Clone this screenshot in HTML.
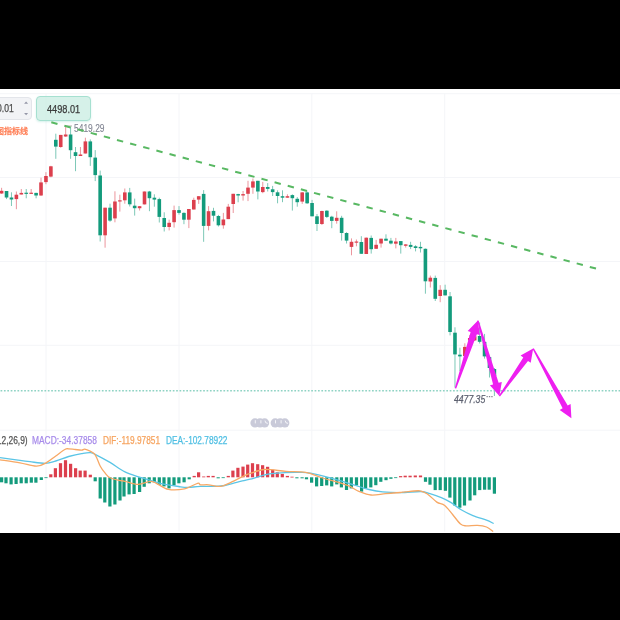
<!DOCTYPE html>
<html><head><meta charset="utf-8"><style>
html,body{margin:0;padding:0;background:#000;width:620px;height:620px;overflow:hidden}
#c{position:absolute;left:0;top:89px;width:620px;height:444px;background:#fff;overflow:hidden;filter:blur(0.35px)}
svg{position:absolute;left:0;top:0}
.t{position:absolute;font-family:"Liberation Sans",Arial,sans-serif;white-space:nowrap;transform-origin:0 0;-webkit-text-stroke:0.25px currentColor}
.inp{position:absolute;left:-20px;top:7.8px;width:52px;height:23px;background:#f2f3f6;border:1px solid #e3e5ea;border-radius:4px;box-sizing:border-box}
.gb{position:absolute;left:36px;top:6.7px;width:54.6px;height:25.4px;background:rgba(200,236,226,0.75);border:1px solid #a6e0d0;border-radius:4px;box-sizing:border-box;box-shadow:0 1px 2px rgba(120,210,190,0.3)}
</style></head><body>
<div id="c">
<svg width="620" height="444" viewBox="0 89 620 444">
<line x1="0" y1="93.7" x2="620" y2="93.7" stroke="#f4f5f8" stroke-width="1"/>
<line x1="0" y1="177.5" x2="620" y2="177.5" stroke="#f4f5f8" stroke-width="1"/>
<line x1="0" y1="261.5" x2="620" y2="261.5" stroke="#f4f5f8" stroke-width="1"/>
<line x1="0" y1="345.3" x2="620" y2="345.3" stroke="#f4f5f8" stroke-width="1"/>
<line x1="0" y1="430.2" x2="620" y2="430.2" stroke="#f4f5f8" stroke-width="1"/>
<line x1="46" y1="93.7" x2="46" y2="531.5" stroke="#f4f5f8" stroke-width="1"/>
<line x1="179" y1="93.7" x2="179" y2="531.5" stroke="#f4f5f8" stroke-width="1"/>
<line x1="311.8" y1="93.7" x2="311.8" y2="531.5" stroke="#f4f5f8" stroke-width="1"/>
<line x1="444.7" y1="93.7" x2="444.7" y2="531.5" stroke="#f4f5f8" stroke-width="1"/>
<line x1="1.60" y1="187.8" x2="1.60" y2="193.9" stroke="#dc3f4d" stroke-width="1" opacity="0.55"/>
<rect x="-0.20" y="190.8" width="3.6" height="2.7" fill="#dc3f4d"/>
<line x1="6.53" y1="191.0" x2="6.53" y2="199.1" stroke="#139b7c" stroke-width="1" opacity="0.55"/>
<rect x="4.73" y="191.0" width="3.6" height="6.5" fill="#139b7c"/>
<line x1="11.46" y1="192.3" x2="11.46" y2="206.0" stroke="#139b7c" stroke-width="1" opacity="0.55"/>
<rect x="9.66" y="197.5" width="3.6" height="2.0" fill="#139b7c"/>
<line x1="16.38" y1="191.5" x2="16.38" y2="209.2" stroke="#dc3f4d" stroke-width="1" opacity="0.55"/>
<rect x="14.58" y="194.7" width="3.6" height="4.4" fill="#dc3f4d"/>
<line x1="21.31" y1="189.0" x2="21.31" y2="194.5" stroke="#dc3f4d" stroke-width="1" opacity="0.55"/>
<rect x="19.51" y="192.9" width="3.6" height="1.6" fill="#dc3f4d"/>
<line x1="26.24" y1="189.0" x2="26.24" y2="198.3" stroke="#139b7c" stroke-width="1" opacity="0.55"/>
<rect x="24.44" y="192.7" width="3.6" height="1.2" fill="#139b7c"/>
<line x1="31.17" y1="189.0" x2="31.17" y2="193.7" stroke="#dc3f4d" stroke-width="1" opacity="0.55"/>
<rect x="29.37" y="192.7" width="3.6" height="1.2" fill="#dc3f4d"/>
<line x1="36.10" y1="192.7" x2="36.10" y2="198.3" stroke="#139b7c" stroke-width="1" opacity="0.55"/>
<rect x="34.30" y="192.9" width="3.6" height="2.6" fill="#139b7c"/>
<line x1="41.02" y1="177.7" x2="41.02" y2="195.9" stroke="#dc3f4d" stroke-width="1" opacity="0.55"/>
<rect x="39.22" y="182.4" width="3.6" height="13.1" fill="#dc3f4d"/>
<line x1="45.95" y1="172.2" x2="45.95" y2="184.2" stroke="#dc3f4d" stroke-width="1" opacity="0.55"/>
<rect x="44.15" y="176.0" width="3.6" height="6.1" fill="#dc3f4d"/>
<line x1="50.88" y1="165.8" x2="50.88" y2="177.3" stroke="#dc3f4d" stroke-width="1" opacity="0.55"/>
<rect x="49.08" y="166.3" width="3.6" height="10.3" fill="#dc3f4d"/>
<line x1="55.81" y1="133.7" x2="55.81" y2="158.8" stroke="#139b7c" stroke-width="1" opacity="0.55"/>
<rect x="54.01" y="139.8" width="3.6" height="6.8" fill="#139b7c"/>
<line x1="60.74" y1="134.9" x2="60.74" y2="147.8" stroke="#dc3f4d" stroke-width="1" opacity="0.55"/>
<rect x="58.94" y="134.9" width="3.6" height="12.1" fill="#dc3f4d"/>
<line x1="65.66" y1="126.9" x2="65.66" y2="136.9" stroke="#dc3f4d" stroke-width="1" opacity="0.55"/>
<rect x="63.86" y="134.5" width="3.6" height="2.0" fill="#dc3f4d"/>
<line x1="70.59" y1="126.9" x2="70.59" y2="158.8" stroke="#139b7c" stroke-width="1" opacity="0.55"/>
<rect x="68.79" y="134.5" width="3.6" height="15.7" fill="#139b7c"/>
<line x1="75.52" y1="147.0" x2="75.52" y2="171.2" stroke="#139b7c" stroke-width="1" opacity="0.55"/>
<rect x="73.72" y="152.2" width="3.6" height="3.8" fill="#139b7c"/>
<line x1="80.45" y1="147.0" x2="80.45" y2="156.0" stroke="#dc3f4d" stroke-width="1" opacity="0.55"/>
<rect x="78.65" y="154.5" width="3.6" height="1.5" fill="#dc3f4d"/>
<line x1="85.38" y1="137.7" x2="85.38" y2="153.5" stroke="#dc3f4d" stroke-width="1" opacity="0.55"/>
<rect x="83.58" y="141.4" width="3.6" height="12.1" fill="#dc3f4d"/>
<line x1="90.30" y1="139.4" x2="90.30" y2="165.9" stroke="#139b7c" stroke-width="1" opacity="0.55"/>
<rect x="88.50" y="141.4" width="3.6" height="15.8" fill="#139b7c"/>
<line x1="95.23" y1="150.1" x2="95.23" y2="181.1" stroke="#139b7c" stroke-width="1" opacity="0.55"/>
<rect x="93.43" y="157.6" width="3.6" height="17.5" fill="#139b7c"/>
<line x1="100.16" y1="170.6" x2="100.16" y2="241.5" stroke="#139b7c" stroke-width="1" opacity="0.55"/>
<rect x="98.36" y="175.5" width="3.6" height="59.8" fill="#139b7c"/>
<line x1="105.09" y1="207.7" x2="105.09" y2="247.7" stroke="#dc3f4d" stroke-width="1" opacity="0.55"/>
<rect x="103.29" y="207.7" width="3.6" height="27.6" fill="#dc3f4d"/>
<line x1="110.02" y1="203.7" x2="110.02" y2="221.8" stroke="#139b7c" stroke-width="1" opacity="0.55"/>
<rect x="108.22" y="207.7" width="3.6" height="12.9" fill="#139b7c"/>
<line x1="114.94" y1="191.3" x2="114.94" y2="222.3" stroke="#dc3f4d" stroke-width="1" opacity="0.55"/>
<rect x="113.14" y="201.5" width="3.6" height="16.9" fill="#dc3f4d"/>
<line x1="119.87" y1="194.7" x2="119.87" y2="211.6" stroke="#dc3f4d" stroke-width="1" opacity="0.55"/>
<rect x="118.07" y="200.3" width="3.6" height="1.2" fill="#dc3f4d"/>
<line x1="124.80" y1="188.5" x2="124.80" y2="203.7" stroke="#dc3f4d" stroke-width="1" opacity="0.55"/>
<rect x="123.00" y="192.4" width="3.6" height="7.9" fill="#dc3f4d"/>
<line x1="129.73" y1="187.9" x2="129.73" y2="206.5" stroke="#139b7c" stroke-width="1" opacity="0.55"/>
<rect x="127.93" y="192.4" width="3.6" height="11.9" fill="#139b7c"/>
<line x1="134.66" y1="198.6" x2="134.66" y2="215.6" stroke="#139b7c" stroke-width="1" opacity="0.55"/>
<rect x="132.86" y="205.7" width="3.6" height="2.5" fill="#139b7c"/>
<line x1="139.58" y1="206.0" x2="139.58" y2="210.5" stroke="#dc3f4d" stroke-width="1" opacity="0.55"/>
<rect x="137.78" y="206.2" width="3.6" height="2.0" fill="#dc3f4d"/>
<line x1="144.51" y1="191.5" x2="144.51" y2="204.4" stroke="#dc3f4d" stroke-width="1" opacity="0.55"/>
<rect x="142.71" y="191.5" width="3.6" height="12.9" fill="#dc3f4d"/>
<line x1="149.44" y1="190.9" x2="149.44" y2="211.2" stroke="#139b7c" stroke-width="1" opacity="0.55"/>
<rect x="147.64" y="191.5" width="3.6" height="6.7" fill="#139b7c"/>
<line x1="154.37" y1="194.3" x2="154.37" y2="206.7" stroke="#139b7c" stroke-width="1" opacity="0.55"/>
<rect x="152.57" y="197.7" width="3.6" height="1.9" fill="#139b7c"/>
<line x1="159.30" y1="197.7" x2="159.30" y2="222.5" stroke="#139b7c" stroke-width="1" opacity="0.55"/>
<rect x="157.50" y="199.1" width="3.6" height="17.8" fill="#139b7c"/>
<line x1="164.22" y1="212.3" x2="164.22" y2="231.5" stroke="#139b7c" stroke-width="1" opacity="0.55"/>
<rect x="162.42" y="218.0" width="3.6" height="9.0" fill="#139b7c"/>
<line x1="169.15" y1="219.7" x2="169.15" y2="230.4" stroke="#dc3f4d" stroke-width="1" opacity="0.55"/>
<rect x="167.35" y="222.8" width="3.6" height="4.2" fill="#dc3f4d"/>
<line x1="174.08" y1="205.6" x2="174.08" y2="227.6" stroke="#dc3f4d" stroke-width="1" opacity="0.55"/>
<rect x="172.28" y="210.1" width="3.6" height="12.1" fill="#dc3f4d"/>
<line x1="179.01" y1="206.1" x2="179.01" y2="214.6" stroke="#139b7c" stroke-width="1" opacity="0.55"/>
<rect x="177.21" y="210.1" width="3.6" height="2.8" fill="#139b7c"/>
<line x1="183.94" y1="212.3" x2="183.94" y2="224.2" stroke="#139b7c" stroke-width="1" opacity="0.55"/>
<rect x="182.14" y="212.9" width="3.6" height="6.8" fill="#139b7c"/>
<line x1="188.86" y1="209.0" x2="188.86" y2="228.1" stroke="#dc3f4d" stroke-width="1" opacity="0.55"/>
<rect x="187.06" y="209.0" width="3.6" height="10.7" fill="#dc3f4d"/>
<line x1="193.79" y1="197.7" x2="193.79" y2="209.5" stroke="#dc3f4d" stroke-width="1" opacity="0.55"/>
<rect x="191.99" y="199.9" width="3.6" height="9.6" fill="#dc3f4d"/>
<line x1="198.72" y1="196.0" x2="198.72" y2="203.9" stroke="#dc3f4d" stroke-width="1" opacity="0.55"/>
<rect x="196.92" y="196.2" width="3.6" height="3.4" fill="#dc3f4d"/>
<line x1="203.65" y1="190.1" x2="203.65" y2="241.8" stroke="#139b7c" stroke-width="1" opacity="0.55"/>
<rect x="201.85" y="193.9" width="3.6" height="32.0" fill="#139b7c"/>
<line x1="208.58" y1="206.1" x2="208.58" y2="230.4" stroke="#dc3f4d" stroke-width="1" opacity="0.55"/>
<rect x="206.78" y="211.2" width="3.6" height="14.7" fill="#dc3f4d"/>
<line x1="213.50" y1="207.8" x2="213.50" y2="221.4" stroke="#139b7c" stroke-width="1" opacity="0.55"/>
<rect x="211.70" y="210.9" width="3.6" height="4.8" fill="#139b7c"/>
<line x1="218.43" y1="214.9" x2="218.43" y2="226.5" stroke="#139b7c" stroke-width="1" opacity="0.55"/>
<rect x="216.63" y="216.0" width="3.6" height="9.3" fill="#139b7c"/>
<line x1="223.36" y1="212.9" x2="223.36" y2="228.7" stroke="#dc3f4d" stroke-width="1" opacity="0.55"/>
<rect x="221.56" y="219.5" width="3.6" height="5.8" fill="#dc3f4d"/>
<line x1="228.29" y1="203.9" x2="228.29" y2="219.1" stroke="#dc3f4d" stroke-width="1" opacity="0.55"/>
<rect x="226.49" y="206.7" width="3.6" height="12.4" fill="#dc3f4d"/>
<line x1="233.22" y1="193.8" x2="233.22" y2="213.0" stroke="#dc3f4d" stroke-width="1" opacity="0.55"/>
<rect x="231.42" y="193.8" width="3.6" height="10.2" fill="#dc3f4d"/>
<line x1="238.14" y1="193.8" x2="238.14" y2="202.3" stroke="#139b7c" stroke-width="1" opacity="0.55"/>
<rect x="236.34" y="194.1" width="3.6" height="1.4" fill="#139b7c"/>
<line x1="243.07" y1="191.0" x2="243.07" y2="200.6" stroke="#dc3f4d" stroke-width="1" opacity="0.55"/>
<rect x="241.27" y="194.1" width="3.6" height="1.4" fill="#dc3f4d"/>
<line x1="248.00" y1="180.8" x2="248.00" y2="201.1" stroke="#dc3f4d" stroke-width="1" opacity="0.55"/>
<rect x="246.20" y="187.6" width="3.6" height="6.2" fill="#dc3f4d"/>
<line x1="252.93" y1="178.5" x2="252.93" y2="193.8" stroke="#dc3f4d" stroke-width="1" opacity="0.55"/>
<rect x="251.13" y="181.4" width="3.6" height="6.2" fill="#dc3f4d"/>
<line x1="257.86" y1="180.8" x2="257.86" y2="199.4" stroke="#139b7c" stroke-width="1" opacity="0.55"/>
<rect x="256.06" y="180.8" width="3.6" height="10.7" fill="#139b7c"/>
<line x1="262.78" y1="181.9" x2="262.78" y2="193.2" stroke="#dc3f4d" stroke-width="1" opacity="0.55"/>
<rect x="260.98" y="187.0" width="3.6" height="5.1" fill="#dc3f4d"/>
<line x1="267.71" y1="183.1" x2="267.71" y2="191.5" stroke="#139b7c" stroke-width="1" opacity="0.55"/>
<rect x="265.91" y="187.0" width="3.6" height="1.9" fill="#139b7c"/>
<line x1="272.64" y1="185.9" x2="272.64" y2="196.0" stroke="#139b7c" stroke-width="1" opacity="0.55"/>
<rect x="270.84" y="189.3" width="3.6" height="2.8" fill="#139b7c"/>
<line x1="277.57" y1="190.3" x2="277.57" y2="203.3" stroke="#139b7c" stroke-width="1" opacity="0.55"/>
<rect x="275.77" y="192.3" width="3.6" height="3.7" fill="#139b7c"/>
<line x1="282.50" y1="190.3" x2="282.50" y2="202.2" stroke="#139b7c" stroke-width="1" opacity="0.55"/>
<rect x="280.70" y="196.2" width="3.6" height="1.5" fill="#139b7c"/>
<line x1="287.42" y1="194.3" x2="287.42" y2="197.7" stroke="#dc3f4d" stroke-width="1" opacity="0.55"/>
<rect x="285.62" y="196.2" width="3.6" height="1.5" fill="#dc3f4d"/>
<line x1="292.35" y1="194.3" x2="292.35" y2="210.6" stroke="#139b7c" stroke-width="1" opacity="0.55"/>
<rect x="290.55" y="195.1" width="3.6" height="3.1" fill="#139b7c"/>
<line x1="297.28" y1="197.1" x2="297.28" y2="206.7" stroke="#139b7c" stroke-width="1" opacity="0.55"/>
<rect x="295.48" y="198.8" width="3.6" height="3.4" fill="#139b7c"/>
<line x1="302.21" y1="192.0" x2="302.21" y2="203.9" stroke="#dc3f4d" stroke-width="1" opacity="0.55"/>
<rect x="300.41" y="192.4" width="3.6" height="9.2" fill="#dc3f4d"/>
<line x1="307.14" y1="191.5" x2="307.14" y2="203.9" stroke="#139b7c" stroke-width="1" opacity="0.55"/>
<rect x="305.34" y="192.4" width="3.6" height="10.9" fill="#139b7c"/>
<line x1="312.06" y1="199.9" x2="312.06" y2="216.3" stroke="#139b7c" stroke-width="1" opacity="0.55"/>
<rect x="310.26" y="203.0" width="3.6" height="13.3" fill="#139b7c"/>
<line x1="316.99" y1="214.0" x2="316.99" y2="231.0" stroke="#139b7c" stroke-width="1" opacity="0.55"/>
<rect x="315.19" y="216.3" width="3.6" height="7.7" fill="#139b7c"/>
<line x1="321.92" y1="210.7" x2="321.92" y2="225.0" stroke="#dc3f4d" stroke-width="1" opacity="0.55"/>
<rect x="320.12" y="211.0" width="3.6" height="13.0" fill="#dc3f4d"/>
<line x1="326.85" y1="210.2" x2="326.85" y2="218.0" stroke="#139b7c" stroke-width="1" opacity="0.55"/>
<rect x="325.05" y="210.7" width="3.6" height="6.2" fill="#139b7c"/>
<line x1="331.78" y1="215.8" x2="331.78" y2="228.2" stroke="#139b7c" stroke-width="1" opacity="0.55"/>
<rect x="329.98" y="216.7" width="3.6" height="4.2" fill="#139b7c"/>
<line x1="336.70" y1="211.3" x2="336.70" y2="223.7" stroke="#dc3f4d" stroke-width="1" opacity="0.55"/>
<rect x="334.90" y="217.8" width="3.6" height="3.1" fill="#dc3f4d"/>
<line x1="341.63" y1="215.8" x2="341.63" y2="240.6" stroke="#139b7c" stroke-width="1" opacity="0.55"/>
<rect x="339.83" y="217.8" width="3.6" height="15.2" fill="#139b7c"/>
<line x1="346.56" y1="232.2" x2="346.56" y2="243.5" stroke="#139b7c" stroke-width="1" opacity="0.55"/>
<rect x="344.76" y="233.0" width="3.6" height="7.6" fill="#139b7c"/>
<line x1="351.49" y1="238.4" x2="351.49" y2="255.3" stroke="#dc3f4d" stroke-width="1" opacity="0.55"/>
<rect x="349.69" y="241.8" width="3.6" height="5.1" fill="#dc3f4d"/>
<line x1="356.42" y1="239.5" x2="356.42" y2="246.3" stroke="#dc3f4d" stroke-width="1" opacity="0.55"/>
<rect x="354.62" y="241.5" width="3.6" height="1.2" fill="#dc3f4d"/>
<line x1="361.34" y1="236.2" x2="361.34" y2="253.8" stroke="#139b7c" stroke-width="1" opacity="0.55"/>
<rect x="359.54" y="242.0" width="3.6" height="11.8" fill="#139b7c"/>
<line x1="366.27" y1="237.5" x2="366.27" y2="254.0" stroke="#dc3f4d" stroke-width="1" opacity="0.55"/>
<rect x="364.47" y="237.7" width="3.6" height="16.3" fill="#dc3f4d"/>
<line x1="371.20" y1="235.5" x2="371.20" y2="253.6" stroke="#139b7c" stroke-width="1" opacity="0.55"/>
<rect x="369.40" y="237.9" width="3.6" height="11.3" fill="#139b7c"/>
<line x1="376.13" y1="239.9" x2="376.13" y2="248.8" stroke="#dc3f4d" stroke-width="1" opacity="0.55"/>
<rect x="374.33" y="244.8" width="3.6" height="4.0" fill="#dc3f4d"/>
<line x1="381.06" y1="238.7" x2="381.06" y2="247.6" stroke="#dc3f4d" stroke-width="1" opacity="0.55"/>
<rect x="379.26" y="238.7" width="3.6" height="4.8" fill="#dc3f4d"/>
<line x1="385.98" y1="234.3" x2="385.98" y2="240.7" stroke="#139b7c" stroke-width="1" opacity="0.55"/>
<rect x="384.18" y="238.7" width="3.6" height="2.0" fill="#139b7c"/>
<line x1="390.91" y1="237.9" x2="390.91" y2="244.4" stroke="#139b7c" stroke-width="1" opacity="0.55"/>
<rect x="389.11" y="240.7" width="3.6" height="2.8" fill="#139b7c"/>
<line x1="395.84" y1="237.9" x2="395.84" y2="248.4" stroke="#dc3f4d" stroke-width="1" opacity="0.55"/>
<rect x="394.04" y="241.5" width="3.6" height="2.2" fill="#dc3f4d"/>
<line x1="400.77" y1="241.1" x2="400.77" y2="253.6" stroke="#139b7c" stroke-width="1" opacity="0.55"/>
<rect x="398.97" y="241.1" width="3.6" height="4.1" fill="#139b7c"/>
<line x1="405.70" y1="244.0" x2="405.70" y2="247.6" stroke="#dc3f4d" stroke-width="1" opacity="0.55"/>
<rect x="403.90" y="244.4" width="3.6" height="1.4" fill="#dc3f4d"/>
<line x1="410.62" y1="241.8" x2="410.62" y2="249.1" stroke="#139b7c" stroke-width="1" opacity="0.55"/>
<rect x="408.82" y="244.9" width="3.6" height="2.0" fill="#139b7c"/>
<line x1="415.55" y1="245.2" x2="415.55" y2="251.4" stroke="#139b7c" stroke-width="1" opacity="0.55"/>
<rect x="413.75" y="246.3" width="3.6" height="1.7" fill="#139b7c"/>
<line x1="420.48" y1="241.8" x2="420.48" y2="252.5" stroke="#139b7c" stroke-width="1" opacity="0.55"/>
<rect x="418.68" y="246.9" width="3.6" height="1.4" fill="#139b7c"/>
<line x1="425.41" y1="248.5" x2="425.41" y2="293.7" stroke="#139b7c" stroke-width="1" opacity="0.55"/>
<rect x="423.61" y="248.8" width="3.6" height="32.5" fill="#139b7c"/>
<line x1="430.34" y1="275.6" x2="430.34" y2="287.5" stroke="#dc3f4d" stroke-width="1" opacity="0.55"/>
<rect x="428.54" y="277.7" width="3.6" height="3.8" fill="#dc3f4d"/>
<line x1="435.26" y1="275.6" x2="435.26" y2="301.0" stroke="#139b7c" stroke-width="1" opacity="0.55"/>
<rect x="433.46" y="277.9" width="3.6" height="20.9" fill="#139b7c"/>
<line x1="440.19" y1="285.2" x2="440.19" y2="302.2" stroke="#dc3f4d" stroke-width="1" opacity="0.55"/>
<rect x="438.39" y="289.8" width="3.6" height="6.2" fill="#dc3f4d"/>
<line x1="445.12" y1="284.7" x2="445.12" y2="295.4" stroke="#139b7c" stroke-width="1" opacity="0.55"/>
<rect x="443.32" y="289.8" width="3.6" height="5.6" fill="#139b7c"/>
<line x1="450.05" y1="292.0" x2="450.05" y2="335.4" stroke="#139b7c" stroke-width="1" opacity="0.55"/>
<rect x="448.25" y="296.3" width="3.6" height="35.7" fill="#139b7c"/>
<line x1="454.98" y1="327.3" x2="454.98" y2="387.6" stroke="#139b7c" stroke-width="1" opacity="0.55"/>
<rect x="453.18" y="332.7" width="3.6" height="21.7" fill="#139b7c"/>
<line x1="459.90" y1="347.7" x2="459.90" y2="371.0" stroke="#139b7c" stroke-width="1" opacity="0.55"/>
<rect x="458.10" y="354.7" width="3.6" height="1.7" fill="#139b7c"/>
<line x1="464.83" y1="343.3" x2="464.83" y2="357.0" stroke="#dc3f4d" stroke-width="1" opacity="0.55"/>
<rect x="463.03" y="346.9" width="3.6" height="9.1" fill="#dc3f4d"/>
<line x1="469.76" y1="335.0" x2="469.76" y2="342.0" stroke="#dc3f4d" stroke-width="1" opacity="0.55"/>
<rect x="467.96" y="338.0" width="3.6" height="2.5" fill="#dc3f4d"/>
<line x1="474.69" y1="333.0" x2="474.69" y2="341.0" stroke="#dc3f4d" stroke-width="1" opacity="0.55"/>
<rect x="472.89" y="336.3" width="3.6" height="4.1" fill="#dc3f4d"/>
<line x1="479.62" y1="322.5" x2="479.62" y2="343.5" stroke="#139b7c" stroke-width="1" opacity="0.55"/>
<rect x="477.82" y="336.0" width="3.6" height="5.8" fill="#139b7c"/>
<line x1="484.54" y1="333.9" x2="484.54" y2="358.6" stroke="#139b7c" stroke-width="1" opacity="0.55"/>
<rect x="482.74" y="341.9" width="3.6" height="14.5" fill="#139b7c"/>
<line x1="489.47" y1="356.4" x2="489.47" y2="377.5" stroke="#139b7c" stroke-width="1" opacity="0.55"/>
<rect x="487.67" y="357.1" width="3.6" height="10.9" fill="#139b7c"/>
<line x1="494.40" y1="368.0" x2="494.40" y2="396.0" stroke="#139b7c" stroke-width="1" opacity="0.55"/>
<rect x="492.60" y="369.0" width="3.6" height="7.0" fill="#139b7c"/>
<rect x="0.00" y="477.3" width="3.2" height="5.0" fill="#139b7c"/>
<rect x="4.40" y="477.3" width="3.2" height="6.0" fill="#139b7c"/>
<rect x="9.50" y="477.3" width="3.2" height="7.1" fill="#139b7c"/>
<rect x="14.50" y="477.3" width="3.2" height="6.7" fill="#139b7c"/>
<rect x="19.60" y="477.3" width="3.2" height="6.0" fill="#139b7c"/>
<rect x="24.60" y="477.3" width="3.2" height="6.0" fill="#139b7c"/>
<rect x="29.70" y="477.3" width="3.2" height="5.4" fill="#139b7c"/>
<rect x="34.30" y="477.3" width="3.2" height="5.4" fill="#139b7c"/>
<rect x="39.70" y="477.3" width="3.2" height="2.7" fill="#139b7c"/>
<rect x="44.40" y="477.3" width="3.2" height="0.8" fill="#139b7c"/>
<rect x="49.20" y="474.3" width="3.2" height="3.0" fill="#dc3f4d"/>
<rect x="53.80" y="468.2" width="3.2" height="9.1" fill="#dc3f4d"/>
<rect x="58.90" y="463.2" width="3.2" height="14.1" fill="#dc3f4d"/>
<rect x="63.90" y="460.2" width="3.2" height="17.1" fill="#dc3f4d"/>
<rect x="69.00" y="463.8" width="3.2" height="13.5" fill="#dc3f4d"/>
<rect x="74.00" y="468.2" width="3.2" height="9.1" fill="#dc3f4d"/>
<rect x="78.60" y="470.6" width="3.2" height="6.7" fill="#dc3f4d"/>
<rect x="83.50" y="470.6" width="3.2" height="6.7" fill="#dc3f4d"/>
<rect x="88.70" y="474.7" width="3.2" height="2.6" fill="#dc3f4d"/>
<rect x="93.60" y="477.3" width="3.2" height="4.0" fill="#139b7c"/>
<rect x="98.60" y="477.3" width="3.2" height="21.2" fill="#139b7c"/>
<rect x="103.20" y="477.3" width="3.2" height="25.2" fill="#139b7c"/>
<rect x="108.30" y="477.3" width="3.2" height="29.2" fill="#139b7c"/>
<rect x="113.30" y="477.3" width="3.2" height="27.2" fill="#139b7c"/>
<rect x="118.40" y="477.3" width="3.2" height="23.2" fill="#139b7c"/>
<rect x="122.40" y="477.3" width="3.2" height="19.2" fill="#139b7c"/>
<rect x="127.50" y="477.3" width="3.2" height="17.1" fill="#139b7c"/>
<rect x="132.50" y="477.3" width="3.2" height="16.7" fill="#139b7c"/>
<rect x="138.00" y="477.3" width="3.2" height="14.7" fill="#139b7c"/>
<rect x="142.60" y="477.3" width="3.2" height="9.5" fill="#139b7c"/>
<rect x="147.60" y="477.3" width="3.2" height="6.0" fill="#139b7c"/>
<rect x="152.70" y="477.3" width="3.2" height="5.0" fill="#139b7c"/>
<rect x="157.70" y="477.3" width="3.2" height="7.5" fill="#139b7c"/>
<rect x="162.40" y="477.3" width="3.2" height="9.1" fill="#139b7c"/>
<rect x="167.40" y="477.3" width="3.2" height="11.1" fill="#139b7c"/>
<rect x="172.40" y="477.3" width="3.2" height="8.1" fill="#139b7c"/>
<rect x="177.30" y="477.3" width="3.2" height="6.0" fill="#139b7c"/>
<rect x="182.50" y="477.3" width="3.2" height="5.0" fill="#139b7c"/>
<rect x="187.60" y="477.3" width="3.2" height="2.0" fill="#139b7c"/>
<rect x="192.60" y="475.9" width="3.2" height="1.4" fill="#dc3f4d"/>
<rect x="197.00" y="472.3" width="3.2" height="5.0" fill="#dc3f4d"/>
<rect x="202.10" y="476.5" width="3.2" height="0.8" fill="#dc3f4d"/>
<rect x="206.70" y="475.9" width="3.2" height="1.4" fill="#dc3f4d"/>
<rect x="211.50" y="475.9" width="3.2" height="1.4" fill="#dc3f4d"/>
<rect x="216.60" y="477.3" width="3.2" height="1.0" fill="#139b7c"/>
<rect x="221.60" y="477.3" width="3.2" height="0.8" fill="#139b7c"/>
<rect x="226.70" y="475.9" width="3.2" height="1.4" fill="#dc3f4d"/>
<rect x="231.30" y="470.6" width="3.2" height="6.7" fill="#dc3f4d"/>
<rect x="236.30" y="467.8" width="3.2" height="9.5" fill="#dc3f4d"/>
<rect x="241.40" y="466.6" width="3.2" height="10.7" fill="#dc3f4d"/>
<rect x="246.10" y="464.6" width="3.2" height="12.7" fill="#dc3f4d"/>
<rect x="250.90" y="463.2" width="3.2" height="14.1" fill="#dc3f4d"/>
<rect x="256.10" y="464.2" width="3.2" height="13.1" fill="#dc3f4d"/>
<rect x="261.00" y="465.2" width="3.2" height="12.1" fill="#dc3f4d"/>
<rect x="266.00" y="466.8" width="3.2" height="10.5" fill="#dc3f4d"/>
<rect x="271.10" y="469.8" width="3.2" height="7.5" fill="#dc3f4d"/>
<rect x="275.70" y="472.3" width="3.2" height="5.0" fill="#dc3f4d"/>
<rect x="280.70" y="473.9" width="3.2" height="3.4" fill="#dc3f4d"/>
<rect x="285.80" y="475.9" width="3.2" height="1.4" fill="#dc3f4d"/>
<rect x="290.40" y="476.7" width="3.2" height="0.8" fill="#dc3f4d"/>
<rect x="295.30" y="477.3" width="3.2" height="1.0" fill="#139b7c"/>
<rect x="300.50" y="477.3" width="3.2" height="1.0" fill="#139b7c"/>
<rect x="304.90" y="477.3" width="3.2" height="2.0" fill="#139b7c"/>
<rect x="310.00" y="477.3" width="3.2" height="5.4" fill="#139b7c"/>
<rect x="315.00" y="477.3" width="3.2" height="9.1" fill="#139b7c"/>
<rect x="320.10" y="477.3" width="3.2" height="8.7" fill="#139b7c"/>
<rect x="325.10" y="477.3" width="3.2" height="8.1" fill="#139b7c"/>
<rect x="330.10" y="477.3" width="3.2" height="9.1" fill="#139b7c"/>
<rect x="335.20" y="477.3" width="3.2" height="7.1" fill="#139b7c"/>
<rect x="339.80" y="477.3" width="3.2" height="10.1" fill="#139b7c"/>
<rect x="344.90" y="477.3" width="3.2" height="12.7" fill="#139b7c"/>
<rect x="349.70" y="477.3" width="3.2" height="11.1" fill="#139b7c"/>
<rect x="354.90" y="477.3" width="3.2" height="8.1" fill="#139b7c"/>
<rect x="360.00" y="477.3" width="3.2" height="14.3" fill="#139b7c"/>
<rect x="364.00" y="477.3" width="3.2" height="11.2" fill="#139b7c"/>
<rect x="369.20" y="477.3" width="3.2" height="10.1" fill="#139b7c"/>
<rect x="374.20" y="477.3" width="3.2" height="7.9" fill="#139b7c"/>
<rect x="379.20" y="477.3" width="3.2" height="4.5" fill="#139b7c"/>
<rect x="384.40" y="477.3" width="3.2" height="2.9" fill="#139b7c"/>
<rect x="389.30" y="477.3" width="3.2" height="1.5" fill="#139b7c"/>
<rect x="394.10" y="477.3" width="3.2" height="0.8" fill="#139b7c"/>
<rect x="399.00" y="476.1" width="3.2" height="1.2" fill="#dc3f4d"/>
<rect x="403.60" y="475.7" width="3.2" height="1.6" fill="#dc3f4d"/>
<rect x="408.50" y="475.7" width="3.2" height="1.6" fill="#dc3f4d"/>
<rect x="413.70" y="475.5" width="3.2" height="1.8" fill="#dc3f4d"/>
<rect x="418.90" y="475.5" width="3.2" height="1.8" fill="#dc3f4d"/>
<rect x="423.90" y="477.3" width="3.2" height="4.5" fill="#139b7c"/>
<rect x="428.40" y="477.3" width="3.2" height="7.4" fill="#139b7c"/>
<rect x="433.60" y="477.3" width="3.2" height="12.8" fill="#139b7c"/>
<rect x="438.60" y="477.3" width="3.2" height="12.8" fill="#139b7c"/>
<rect x="443.80" y="477.3" width="3.2" height="13.5" fill="#139b7c"/>
<rect x="448.30" y="477.3" width="3.2" height="20.3" fill="#139b7c"/>
<rect x="453.20" y="477.3" width="3.2" height="28.2" fill="#139b7c"/>
<rect x="458.20" y="477.3" width="3.2" height="30.4" fill="#139b7c"/>
<rect x="462.90" y="477.3" width="3.2" height="28.2" fill="#139b7c"/>
<rect x="468.40" y="477.3" width="3.2" height="23.2" fill="#139b7c"/>
<rect x="473.10" y="477.3" width="3.2" height="18.0" fill="#139b7c"/>
<rect x="478.10" y="477.3" width="3.2" height="12.8" fill="#139b7c"/>
<rect x="483.00" y="477.3" width="3.2" height="12.4" fill="#139b7c"/>
<rect x="487.60" y="477.3" width="3.2" height="12.4" fill="#139b7c"/>
<rect x="492.80" y="477.3" width="3.2" height="16.4" fill="#139b7c"/>
<path d="M0.0,457.7 C3.3,458.1 15.0,459.7 20.0,460.4 C25.0,461.1 25.8,461.2 30.0,461.7 C34.2,462.2 41.2,463.5 45.5,463.4 C49.8,463.3 51.9,462.1 55.8,461.0 C59.7,459.9 64.4,457.7 68.7,456.5 C73.0,455.3 77.9,454.2 81.6,453.6 C85.2,453.0 88.0,452.4 90.6,452.7 C93.2,453.0 93.8,453.7 97.0,455.3 C100.2,456.9 105.3,459.6 110.0,462.4 C114.7,465.2 120.0,469.4 125.0,471.9 C130.0,474.4 134.3,475.4 140.2,477.3 C146.1,479.2 153.6,481.7 160.3,483.3 C167.0,484.9 175.8,486.1 180.5,486.8 C185.2,487.5 185.2,487.5 188.5,487.4 C191.8,487.3 195.2,486.6 200.6,486.4 C206.0,486.2 215.4,486.5 220.8,486.0 C226.2,485.5 228.9,484.2 232.9,483.3 C236.9,482.4 242.2,481.0 245.0,480.3 C247.8,479.6 245.9,480.3 250.0,479.2 C254.1,478.1 263.6,475.0 269.4,473.9 C275.2,472.8 280.2,472.9 285.0,472.6 C289.8,472.4 294.1,472.3 298.4,472.4 C302.6,472.5 304.4,472.0 310.5,473.1 C316.6,474.2 326.6,477.0 334.7,479.2 C342.8,481.4 353.2,484.8 358.9,486.5 C364.6,488.2 365.1,488.6 369.0,489.5 C372.9,490.4 377.3,491.3 382.6,491.8 C387.9,492.3 394.2,492.7 400.6,492.6 C407.0,492.6 416.1,491.3 421.0,491.5 C425.9,491.7 426.6,492.7 430.0,493.7 C433.4,494.7 437.9,496.2 441.3,497.6 C444.7,499.0 446.9,500.0 450.3,502.1 C453.7,504.2 457.8,507.8 461.6,510.0 C465.4,512.2 468.8,513.9 472.9,515.6 C477.0,517.3 483.0,518.9 486.5,520.2 C490.0,521.5 492.5,523.0 493.7,523.5" fill="none" stroke="#5bc5e6" stroke-width="1.3"/>
<path d="M0.0,459.8 C3.3,460.3 13.9,461.7 20.0,462.8 C26.1,463.9 32.0,466.3 36.5,466.2 C41.0,466.1 43.6,464.1 46.8,462.4 C50.0,460.7 52.8,458.1 55.8,456.0 C58.8,453.9 62.6,450.7 64.8,449.5 C67.0,448.3 67.0,448.8 68.7,448.8 C70.4,448.8 73.1,449.3 75.2,449.5 C77.3,449.7 80.0,450.2 81.6,450.1 C83.2,450.1 83.3,449.0 84.8,449.2 C86.3,449.4 89.0,450.6 90.6,451.4 C92.2,452.2 93.4,452.8 94.5,454.0 C95.6,455.2 96.0,456.5 97.0,458.5 C98.0,460.5 99.0,463.8 100.3,466.2 C101.6,468.6 103.2,470.8 104.8,472.7 C106.4,474.6 107.6,476.5 110.0,477.8 C112.4,479.1 116.5,479.7 119.0,480.3 C121.5,480.9 121.8,480.6 125.0,481.3 C128.2,482.0 133.9,484.4 138.1,484.4 C142.3,484.4 147.2,481.5 150.2,481.3 C153.2,481.1 153.3,482.0 156.3,483.3 C159.3,484.6 163.7,488.5 168.4,489.4 C173.1,490.3 179.6,489.8 184.5,488.8 C189.4,487.8 194.9,484.0 197.6,483.3 C200.3,482.6 198.8,484.6 200.6,484.8 C202.4,485.1 205.3,484.5 208.7,484.8 C212.1,485.1 217.1,486.8 220.8,486.4 C224.5,486.0 226.9,484.1 230.9,482.3 C234.9,480.5 241.8,476.8 245.0,475.3 C248.2,473.8 246.8,474.5 250.0,473.5 C253.2,472.5 258.5,469.9 264.5,469.5 C270.5,469.1 279.1,470.9 286.0,471.4 C292.9,471.9 299.5,471.3 305.6,472.4 C311.7,473.5 315.7,475.9 322.6,478.0 C329.5,480.1 340.8,483.0 346.8,485.2 C352.9,487.4 354.9,489.7 358.9,491.3 C362.9,492.9 366.6,494.6 371.0,495.0 C375.4,495.4 380.7,494.1 385.5,493.7 C390.3,493.3 396.7,492.8 400.0,492.5 C403.3,492.2 401.9,492.2 405.2,491.9 C408.5,491.6 416.1,490.4 419.8,490.8 C423.6,491.2 424.9,492.3 427.7,494.2 C430.5,496.1 434.0,500.2 436.8,502.1 C439.6,504.0 442.1,503.4 444.7,505.5 C447.3,507.6 450.0,511.4 452.6,514.5 C455.2,517.6 458.2,522.1 460.5,524.0 C462.8,525.9 463.3,525.6 466.1,525.8 C468.9,526.0 474.0,525.2 477.4,525.4 C480.8,525.6 483.9,526.0 486.5,527.0 C489.1,528.0 492.1,530.8 493.2,531.5" fill="none" stroke="#f7a865" stroke-width="1.3"/>
<line x1="0.55" y1="390.8" x2="620" y2="390.8" stroke="#8fd3c4" stroke-width="1.4" stroke-dasharray="1.7 1.677"/>
<line x1="64.5" y1="126" x2="72" y2="126" stroke="#999" stroke-width="0.8"/>
<line x1="486.5" y1="396.7" x2="493.5" y2="396.7" stroke="#80838f" stroke-width="1.3" stroke-dasharray="1.3 1.1"/>
<g fill="#ee1ff0"><polygon points="456.2,388.6 476.9,334.2 479.8,335.1 477.9,320.6 467.7,331.1 470.6,332.1 454.8,388.2"/><polygon points="477.2,320.8 493.1,384.4 489.9,385.3 499.4,396.1 501.8,381.9 498.6,382.8 478.6,320.4"/><polygon points="500.0,396.5 528.0,360.9 530.7,362.8 533.2,348.6 520.6,355.6 523.3,357.5 498.8,395.7"/><polygon points="532.6,348.9 562.6,408.3 559.7,409.9 571.4,418.3 570.6,403.9 567.7,405.5 533.8,348.3"/></g>
<circle cx="255" cy="422.9" r="4.6" fill="#c9cad9"/>
<circle cx="260" cy="422.9" r="4.6" fill="#c9cad9"/>
<circle cx="264.6" cy="422.9" r="4.6" fill="#c9cad9"/>
<circle cx="275.2" cy="422.9" r="4.6" fill="#c9cad9"/>
<circle cx="280.2" cy="422.9" r="4.6" fill="#c9cad9"/>
<circle cx="284.8" cy="422.9" r="4.6" fill="#c9cad9"/>
<g stroke="#fff" stroke-width="1" fill="none" opacity="0.8"><line x1="255.3" y1="420.2" x2="255.3" y2="423.4"/><line x1="260.9" y1="420.2" x2="260.9" y2="423.4"/><path d="M265,420.6 Q265,423.4 267.8,423.4"/></g>
<g stroke="#fff" stroke-width="1" fill="none" opacity="0.8"><line x1="275.5" y1="420.2" x2="275.5" y2="423.4"/><line x1="281.09999999999997" y1="420.2" x2="281.09999999999997" y2="423.4"/><path d="M285.2,420.6 Q285.2,423.4 288.0,423.4"/></g>
</svg>
<div class="inp"></div>
<svg width="620" height="40" style="top:0"><path d="M24.1 14.8 L26.1 12.6 L28.1 14.8Z M24.1 24.1 L26.1 26.3 L28.1 24.1Z" fill="#9597a8"/></svg>
<div class="t" style="left:-3.2px;top:13.9px;font-size:10.2px;color:#4a4a4a;transform:scaleX(0.84)">0.01</div>
<div class="gb"></div>
<div class="t" style="left:47px;top:13.9px;font-size:10.8px;color:#3a3a3a;transform:scaleX(0.85)">4498.01</div>
<div class="t" style="left:-12px;top:35.6px;font-size:8px;font-weight:500;color:#ff7a50;font-family:'Liberation Sans','Noto Sans CJK SC',sans-serif">副图指标线</div>
<div class="t" style="left:73.8px;top:33.1px;font-size:10.5px;color:#7f8290;transform:scaleX(0.805);-webkit-text-stroke:0.1px currentColor">5419.29</div>
<div class="t" style="left:454.4px;top:304.6px;font-size:10.4px;color:#5d6170;font-style:italic;transform:scaleX(0.83)">4477.35</div>
<div class="t" style="left:-6.5px;top:345.5px;font-size:10px;color:#555;transform:scaleX(0.84)">(12,26,9)</div>
<div class="t" style="left:31.8px;top:345.5px;font-size:10px;color:#a78bea;transform:scaleX(0.84)">MACD:-34.37858</div>
<div class="t" style="left:102.6px;top:345.5px;font-size:10px;color:#f6a35e;transform:scaleX(0.83)">DIF:-119.97851</div>
<div class="t" style="left:165.7px;top:345.5px;font-size:10px;color:#4fbfe3;transform:scaleX(0.83)">DEA:-102.78922</div>
<svg width="620" height="444" viewBox="0 89 620 444" style="top:0"><line x1="51.3" y1="122.3" x2="596.1" y2="268.6" stroke="#58b862" stroke-width="2" stroke-dasharray="6.4 7.2"/></svg>
</div>
</body></html>
